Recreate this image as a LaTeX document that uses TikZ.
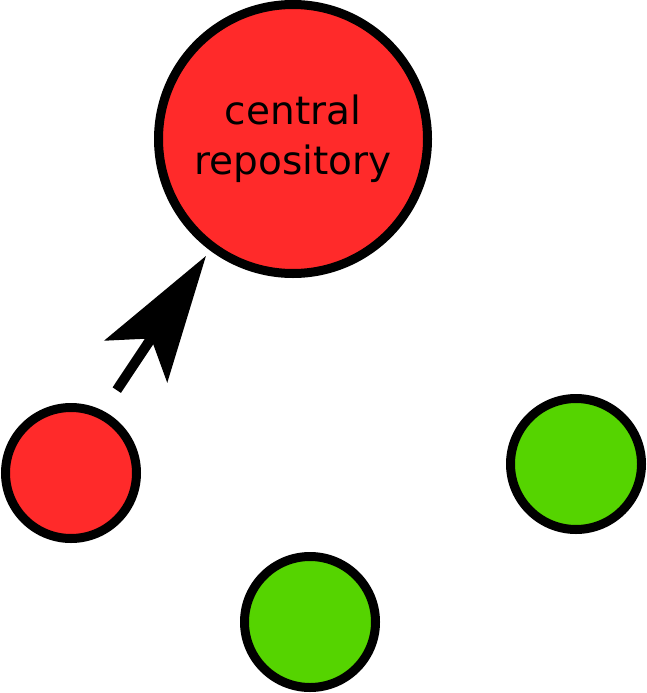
\documentclass[tikz,border=0pt]{standalone}
\usepackage{fontspec}
\setmainfont{DejaVu Sans}
\usetikzlibrary{arrows.meta}
\definecolor{repored}{HTML}{FF2A2A}
\definecolor{peergreen}{HTML}{55D400}

\begin{document}
\begin{tikzpicture}[x=1pt,y=-1pt,
    repo/.style={circle,draw=black,fill=repored,line width=9pt,outer sep=0pt,inner sep=0pt,
      minimum size=269pt,align=center,font=\fontsize{39}{50}\selectfont},
    changed/.style={circle,draw=black,fill=repored,line width=9pt,outer sep=0pt,minimum size=131pt},
    clean/.style={changed,fill=peergreen},
    arrow/.style={-{Stealth[length=127pt,width=76pt,inset=28pt,line width=0pt]},line width=10pt,
      shorten <=28pt,shorten >=12pt}
    ]
    \useasboundingbox (0,0) rectangle (647,693);

    \node[repo] (central) at (293,139) {central\\repository};
    \node[changed] (local) at (71,473) {};
    \node[clean] (peerA) at (576,464) {};
    \node[clean] (peerB) at (310,622) {};

    % push from the local copy
    \draw[arrow,transform canvas={xshift=-6pt,yshift=5pt}] (local) to (central);

  \end{tikzpicture}
\end{document}
